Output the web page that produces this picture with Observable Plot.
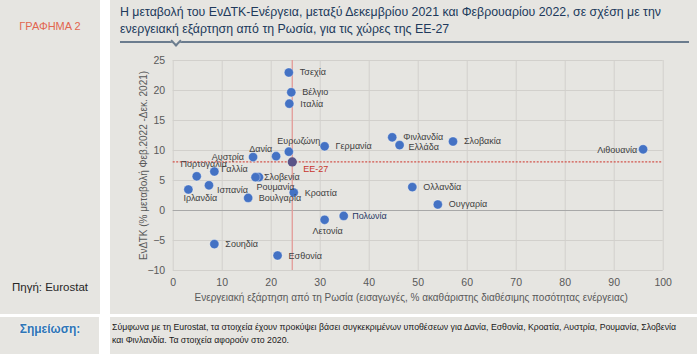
<!DOCTYPE html>
<html><head><meta charset="utf-8">
<script src="https://cdn.jsdelivr.net/npm/d3@7"></script>
<script src="https://cdn.jsdelivr.net/npm/@observablehq/plot@0.6"></script>
<style>
html,body{margin:0;padding:0;background:#fff;}
#wrap{position:relative;width:700px;height:357px;overflow:hidden;font-family:"Liberation Sans",Arial,sans-serif;}
.panel{position:absolute;background:#e6e5e1;}
.t{position:absolute;white-space:nowrap;transform-origin:0 50%;}
#chart{position:absolute;left:0;top:0;}
</style></head>
<body><div id="wrap">
<div class="panel" style="left:0;top:0;width:100px;height:314px"></div>
<div class="panel" style="left:110px;top:0;width:587px;height:314px"></div>
<div class="panel" style="left:0;top:317px;width:99px;height:37px"></div>
<div class="panel" style="left:110px;top:317px;width:587px;height:37px"></div>
<div id="figLabel" class="t" style="left:0;width:100px;top:20px;text-align:center;color:#e2654f;font-size:11px"></div>
<div id="source" class="t" style="left:0;width:100px;top:281px;text-align:center;color:#262626;font-size:11.5px"></div>
<div id="noteLabel" class="t" style="left:0;width:100px;top:322px;text-align:center;color:#2e75b6;font-size:12px;font-weight:bold;text-shadow:0 0 2px #fff"></div>
<div id="title1" class="t" style="left:120px;top:5px;color:#20395b;font-size:12.5px"></div>
<div id="title2" class="t" style="left:120px;top:22px;color:#20395b;font-size:12.5px"></div>
<div style="position:absolute;left:120px;top:41px;width:569px;height:2px;background:#6b7c8e"></div>
<div style="position:absolute;left:172px;top:37px;width:6px;height:6px;transform:rotate(45deg);border-right:2px solid #6b7c8e;border-bottom:2px solid #6b7c8e;background:#e6e5e1"></div>
<div id="note1" class="t" style="left:112px;top:321px;color:#1a1a1a;font-size:9.5px"></div>
<div id="note2" class="t" style="left:112px;top:334px;color:#1a1a1a;font-size:9.5px"></div>
<div id="chart"></div>
</div>
<script>
// ---- texts ----
const figureLabel = "ΓΡΑΦΗΜΑ 2";
const titleLines = [
  "Η μεταβολή του ΕνΔΤΚ-Ενέργεια, μεταξύ Δεκεμβρίου 2021 και Φεβρουαρίου 2022, σε σχέση με την",
  "ενεργειακή εξάρτηση από τη Ρωσία, για τις χώρες της ΕΕ-27"
];
const sourceText = "Πηγή: Eurostat";
const noteLabel = "Σημείωση:";
const noteLines = [
  "Σύμφωνα με τη Eurostat, τα στοιχεία έχουν προκύψει βάσει συγκεκριμένων υποθέσεων για Δανία, Εσθονία, Κροατία, Αυστρία, Ρουμανία, Σλοβενία",
  "και Φινλανδία. Τα στοιχεία αφορούν στο 2020."
];
const xTitle = "Ενεργειακή εξάρτηση από τη Ρωσία (εισαγωγές, % ακαθάριστης διαθέσιμης ποσότητας ενέργειας)";
const yTitle = "ΕνΔΤΚ (% μεταβολή Φεβ.2022 -Δεκ. 2021)";

// ---- data ----
const countries = ["Τσεχία","Βέλγιο","Ιταλία","Ευρωζώνη","Δανία","Αυστρία","Γερμανία","Φινλανδία","Ελλάδα","Σλοβακία","Λιθουανία","ΕΕ-27","Πορτογαλία","Γαλλία","Ιρλανδία","Ισπανία","Σλοβενία","Ρουμανία","Βουλγαρία","Κροατία","Λετονία","Πολωνία","Σουηδία","Εσθονία","Ολλανδία","Ουγγαρία"];
const dependence = [23.6,24.1,23.7,23.6,21.0,16.3,30.9,44.7,46.2,57.1,95.9,24.3,4.8,8.4,3.1,7.3,17.5,16.8,15.3,24.6,30.9,34.8,8.4,21.3,48.8,54.0];
const hicpChange = [23.0,19.7,17.8,9.8,9.05,8.9,10.7,12.2,10.9,11.5,10.2,8.1,5.7,6.5,3.5,4.2,5.55,5.55,2.1,3.0,-1.55,-0.9,-5.6,-7.5,3.9,1.0];
const euName = "ΕΕ-27";
const xTicks = [0,10,20,30,40,50,60,70,80,90,100];
const yTicks = [-10,-5,0,5,10,15,20,25];

// ---- label placement (layout only): [dx, dy, anchor] ----
const labelPlacement = {
 "Τσεχία":[11,0,"start"], "Βέλγιο":[11,0,"start"], "Ιταλία":[11,0,"start"],
 "Ευρωζώνη":[10,-11,"middle"], "Δανία":[-4,-7,"end"], "Αυστρία":[-9,0,"end"],
 "Γερμανία":[11,0,"start"], "Φινλανδία":[11,-0.5,"start"], "Ελλάδα":[9,2,"start"],
 "Σλοβακία":[11,0,"start"], "Λιθουανία":[-6,0.5,"end"], "ΕΕ-27":[11,7,"start"],
 "Πορτογαλία":[7,-12.5,"middle"], "Γαλλία":[7,-2.5,"start"], "Ιρλανδία":[12,9,"middle"],
 "Ισπανία":[8,4.5,"start"], "Σλοβενία":[5,0,"start"], "Ρουμανία":[20,10,"middle"],
 "Βουλγαρία":[10.5,0.5,"start"], "Κροατία":[11,0.5,"start"], "Λετονία":[3,11,"middle"],
 "Πολωνία":[8.5,0.5,"start"], "Σουηδία":[11,0.5,"start"], "Εσθονία":[11,1,"start"],
 "Ολλανδία":[11,0.5,"start"], "Ουγγαρία":[11,0,"start"]
};

const data = countries.map((c,i)=>({name:c, x:dependence[i], y:hicpChange[i]}));
const eu = data.find(d=>d.name===euName);

// ---- html texts ----
document.getElementById("figLabel").textContent = figureLabel;
document.getElementById("source").textContent = sourceText;
document.getElementById("noteLabel").textContent = noteLabel;
document.getElementById("title1").textContent = titleLines[0];
document.getElementById("title2").textContent = titleLines[1];
document.getElementById("note1").textContent = noteLines[0];
document.getElementById("note2").textContent = noteLines[1];
function fitWidth(ids, target){
  const el = document.getElementById(ids[0]);
  const w = el.getBoundingClientRect().width;
  const s = target / w;
  ids.forEach(id=>document.getElementById(id).style.transform = `scaleX(${s})`);
}
fitWidth(["title1","title2"], 541);
fitWidth(["note1","note2"], 564);

// ---- chart ----
const textColor = "#404040";
const labelMarks = data.map(d=>{
  const [dx,dy,anchor] = labelPlacement[d.name];
  const fill = d.name===euName ? "#c8372d" : d.name==="Πολωνία" ? "#1f3864" : textColor;
  return Plot.text([d], {x:"x", y:"y", text:"name", dx, dy, textAnchor:anchor, lineAnchor:"middle", fontSize:9, fill});
});

const plot = Plot.plot({
  width:700, height:310,
  marginLeft:172.7, marginRight:37.3, marginTop:60, marginBottom:40,
  x:{domain:[0,100]}, y:{domain:[-10,25]},
  style:{background:"transparent", fontFamily:"'Liberation Sans', Arial, sans-serif", overflow:"visible"},
  marks:[
    Plot.gridX(xTicks, {stroke:"#d2d0cc", strokeOpacity:1}),
    Plot.gridY(yTicks, {stroke:"#d2d0cc", strokeOpacity:1}),
    Plot.ruleY([0], {stroke:"#a8a8a8", strokeWidth:1.2}),
    Plot.ruleX([eu], {x:"x", stroke:"#e39b98", strokeWidth:1.3}),
    Plot.ruleY([eu], {y:"y", stroke:"#d2544c", strokeWidth:1.2, strokeDasharray:"2,1.5"}),
    Plot.dot(data.filter(d=>d.name!==euName), {x:"x", y:"y", r:4.6, fill:"#4472c4", stroke:"#ffffff", strokeOpacity:0.35, strokeWidth:1}),
    Plot.dot([eu], {x:"x", y:"y", r:4.6, fill:"#5b5488"}),
    ...labelMarks,
    Plot.axisX({ticks:xTicks, tickSize:0, tickPadding:8.5, fontSize:10.5, color:"#595959", label:null}),
    Plot.axisY({ticks:yTicks, tickSize:0, tickPadding:8, fontSize:10.5, color:"#595959", label:null}),
    Plot.text([xTitle], {text:d=>d, frameAnchor:"bottom", dy:27, dx:-7, textAnchor:"middle", lineAnchor:"middle", fontSize:10, fill:"#595959"}),
    Plot.text([yTitle], {text:d=>d, frameAnchor:"left", dx:-29.5, rotate:-90, textAnchor:"middle", lineAnchor:"middle", fontSize:10, fill:"#595959"})
  ]
});
document.getElementById("chart").appendChild(plot);
</script>
</body></html>
